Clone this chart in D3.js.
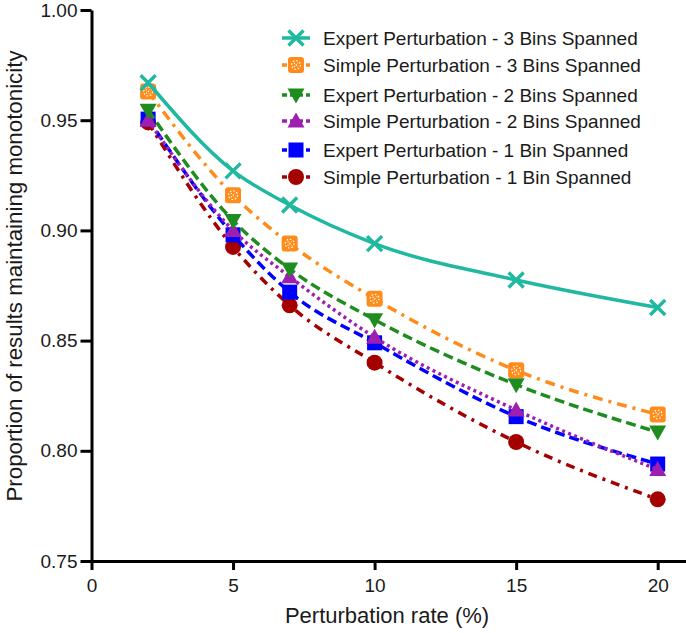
<!DOCTYPE html>
<html>
<head>
<meta charset="utf-8">
<script src="https://cdn.jsdelivr.net/npm/d3@7"></script>
<style>
  body { margin: 0; background: #fff; }
  svg { display: block; font-family: "Liberation Sans", Arial, sans-serif; }
</style>
</head>
<body>
<svg width="686" height="633"></svg>
<script>
//-------------------
// DATA
//-------------------
var rates = [2, 5, 7, 10, 15, 20];
var yTicks = [0.75, 0.80, 0.85, 0.90, 0.95, 1.00];
var xTicks = [0, 5, 10, 15, 20];

var expert3 = [0.967, 0.927, 0.9115, 0.894, 0.8775, 0.865];
var simple3 = [0.963, 0.916, 0.894, 0.869, 0.8365, 0.8165];
var expert2 = [0.9545, 0.9045, 0.8825, 0.8595, 0.830, 0.8085];
var simple2 = [0.950, 0.900, 0.879, 0.8515, 0.8185, 0.7915];
var expert1 = [0.9505, 0.898, 0.872, 0.849, 0.8155, 0.794];
var simple1 = [0.949, 0.8925, 0.866, 0.840, 0.804, 0.778];

var seriesNames = [
    "Expert Perturbation - 3 Bins Spanned",
    "Simple Perturbation - 3 Bins Spanned",
    "Expert Perturbation - 2 Bins Spanned",
    "Simple Perturbation - 2 Bins Spanned",
    "Expert Perturbation - 1 Bin Spanned",
    "Simple Perturbation - 1 Bin Spanned"
];
var seriesValues = [expert3, simple3, expert2, simple2, expert1, simple1];

// look of each series
var styles = [
    { color: "#1fb8a0", dash: null, marker: "cross" },
    { color: "#ff8c1a", dash: "10,6,3,6", marker: "boxx" },
    { color: "#1e8c1e", dash: "10,5", marker: "down" },
    { color: "#9c1fb0", dash: "3,3.5", marker: "up" },
    { color: "#0000ff", dash: "10,5", marker: "square" },
    { color: "#a50000", dash: "9,6,3,6", marker: "circle" }
];

//-------------------
// SCALES + AXES
//-------------------
var svg = d3.select("svg");
var x = d3.scaleLinear().domain([0, 21]).range([91.5, 686]);
var y = d3.scaleLinear().domain([0.75, 1]).range([561, 10]);

var yAxis = svg.append("g")
    .attr("transform", "translate(" + x(0) + ",0)")
    .call(d3.axisLeft(y).tickValues(yTicks).tickFormat(d3.format(".2f"))
        .tickSize(11).tickSizeOuter(0).tickPadding(3));

var xAxis = svg.append("g")
    .attr("transform", "translate(0," + y(0.75) + ")")
    .call(d3.axisBottom(x).tickValues(xTicks).tickSize(9).tickSizeOuter(0).tickPadding(9));

[yAxis, xAxis].forEach(function (a) {
    a.select(".domain").attr("stroke", "#000").attr("stroke-width", 3);
    a.selectAll(".tick line").attr("stroke", "#000").attr("stroke-width", 3);
    a.selectAll(".tick text").attr("fill", "#1a1a1a")
        .style("font-family", "Liberation Sans, Arial, sans-serif")
        .style("font-size", "19px");
});

svg.append("text")
    .attr("x", 387)
    .attr("y", 623)
    .attr("text-anchor", "middle")
    .attr("fill", "#1a1a1a")
    .style("font-size", "22px")
    .text("Perturbation rate (%)");

svg.append("text")
    .attr("transform", "translate(22," + 276 + ") rotate(-90)")
    .attr("text-anchor", "middle")
    .attr("fill", "#1a1a1a")
    .style("font-size", "22.3px")
    .text("Proportion of results maintaining monotonicity");

//-------------------
// MARKERS
//-------------------
function drawMarker(g, kind, color) {
    if (kind === "cross") {
        g.append("path").attr("d", "M-7.5,-7.5L7.5,7.5M-7.5,7.5L7.5,-7.5")
            .attr("stroke", color).attr("stroke-width", 3.4).attr("fill", "none");
    } else if (kind === "boxx") {
        g.append("rect").attr("x", -8).attr("y", -8).attr("width", 16).attr("height", 16)
            .attr("rx", 3).attr("fill", color);
        g.append("circle").attr("r", 4.4).attr("fill", "none")
            .attr("stroke", "#fff").attr("stroke-width", 1.2).attr("stroke-dasharray", "1.6,1.8");
        g.append("path").attr("d", "M-2,-2L2,2M-2,2L2,-2")
            .attr("stroke", "#fff").attr("stroke-width", 1.1).attr("stroke-dasharray", "1.2,1.4");
    } else if (kind === "down") {
        g.append("path").attr("d", "M-8.5,-6.5L8.5,-6.5L0,8.5Z").attr("fill", color);
    } else if (kind === "up") {
        g.append("path").attr("d", "M0,-8.5L8.5,6.5L-8.5,6.5Z").attr("fill", color);
    } else if (kind === "square") {
        g.append("rect").attr("x", -7.5).attr("y", -7.5).attr("width", 15).attr("height", 15).attr("fill", color);
    } else {
        g.append("circle").attr("r", 8).attr("fill", color);
    }
}

//-------------------
// LINES
//-------------------
var line = d3.line()
    .x(function (d) { return x(d[0]); })
    .y(function (d) { return y(d[1]); })
    .curve(d3.curveMonotoneX);

// legend order top to bottom, drawing order bottom to top
for (var i = seriesValues.length - 1; i >= 0; i--) {
    var pts = rates.map(function (r, j) { return [r, seriesValues[i][j]]; });
    var st = styles[i];
    svg.append("path")
        .datum(pts)
        .attr("d", line)
        .attr("fill", "none")
        .attr("stroke", st.color)
        .attr("stroke-width", 3.5)
        .attr("stroke-dasharray", st.dash);
    pts.forEach(function (p) {
        var g = svg.append("g").attr("transform", "translate(" + x(p[0]) + "," + y(p[1]) + ")");
        drawMarker(g, st.marker, st.color);
    });
}

//-------------------
// LEGEND
//-------------------
var legendY = [38, 65, 95, 121, 150, 177];
seriesNames.forEach(function (name, i) {
    var st = styles[i];
    var g = svg.append("g").attr("transform", "translate(296," + legendY[i] + ")");
    g.append("line").attr("x1", -14).attr("x2", 14)
        .attr("stroke", st.color).attr("stroke-width", 3.5)
        .attr("stroke-dasharray", st.dash ? "5,3" : null);
    drawMarker(g, st.marker, st.color);
    g.append("text").attr("x", 27).attr("y", 6.5)
        .attr("fill", "#1a1a1a")
        .style("font-size", "19px")
        .text(name);
});
</script>
</body>
</html>
